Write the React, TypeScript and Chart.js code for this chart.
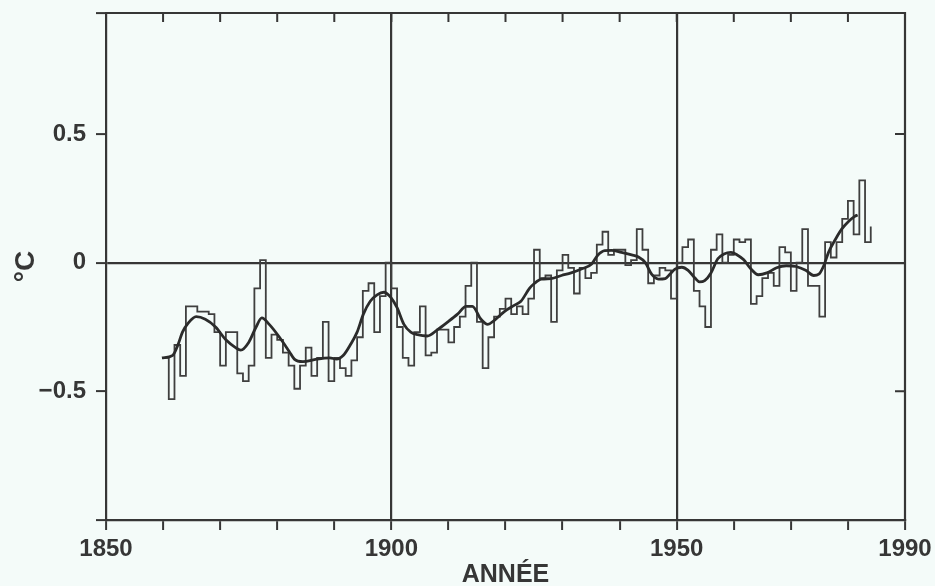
import { useEffect, useRef } from 'react';
import { Chart, registerables } from 'chart.js';

Chart.register(...registerables);

const INK = '#363636';
const BG = '#f4fbf9';

// Annual anomalies (°C); each value holds from its year to the next
const stepYears = [
  1860, 1861, 1862, 1863, 1864, 1865, 1866, 1867, 1868, 1869,
  1870, 1871, 1872, 1873, 1874, 1875, 1876, 1877, 1878, 1879,
  1880, 1881, 1882, 1883, 1884, 1885, 1886, 1887, 1888, 1889,
  1890, 1891, 1892, 1893, 1894, 1895, 1896, 1897, 1898, 1899,
  1900, 1901, 1902, 1903, 1904, 1905, 1906, 1907, 1908, 1909,
  1910, 1911, 1912, 1913, 1914, 1915, 1916, 1917, 1918, 1919,
  1920, 1921, 1922, 1923, 1924, 1925, 1926, 1927, 1928, 1929,
  1930, 1931, 1932, 1933, 1934, 1935, 1936, 1937, 1938, 1939,
  1940, 1941, 1942, 1943, 1944, 1945, 1946, 1947, 1948, 1949,
  1950, 1951, 1952, 1953, 1954, 1955, 1956, 1957, 1958, 1959,
  1960, 1961, 1962, 1963, 1964, 1965, 1966, 1967, 1968, 1969,
  1970, 1971, 1972, 1973, 1974, 1975, 1976, 1977, 1978, 1979,
  1980, 1981, 1982, 1983, 1984,
];
const stepValues = [
  -0.37, -0.53, -0.32, -0.44, -0.17, -0.17, -0.19, -0.19, -0.20, -0.27,
  -0.40, -0.27, -0.27, -0.43, -0.46, -0.40, -0.10, 0.01, -0.37, -0.28,
  -0.30, -0.35, -0.40, -0.49, -0.40, -0.33, -0.44, -0.37, -0.23, -0.46,
  -0.37, -0.41, -0.44, -0.38, -0.29, -0.11, -0.08, -0.27, -0.13, 0.00,
  -0.10, -0.25, -0.37, -0.40, -0.27, -0.17, -0.36, -0.35, -0.26, -0.26,
  -0.31, -0.25, -0.21, -0.09, 0.00, -0.23, -0.41, -0.29, -0.21, -0.18,
  -0.14, -0.20, -0.17, -0.20, -0.14, 0.05, -0.06, -0.05, -0.23, -0.03,
  0.03, -0.02, -0.12, -0.02, -0.06, -0.04, 0.07, 0.12, 0.03, 0.05,
  0.05, -0.01, 0.01, 0.13, 0.05, -0.08, -0.05, -0.02, -0.03, -0.14,
  0.00, 0.06, 0.09, -0.11, -0.17, -0.25, 0.05, 0.11, 0.00, 0.03,
  0.09, 0.08, 0.09, -0.16, -0.13, -0.06, -0.04, -0.09, 0.06, 0.04,
  -0.11, 0.00, 0.13, -0.09, -0.09, -0.21, 0.08, 0.02, 0.08, 0.17,
  0.24, 0.11, 0.32, 0.08, 0.14,
];

// Smoothed curve
const smoothYears = [
  1859.8, 1861.7, 1862.6, 1863.4, 1864.4, 1865.8, 1867.4, 1869.2, 1871.0, 1872.7,
  1873.6, 1875.0, 1876.3, 1877.3, 1878.6, 1880.4, 1882.1, 1883.0, 1884.5, 1886.9,
  1889.2, 1890.4, 1891.6, 1892.8, 1894.0, 1895.1, 1896.3, 1897.5, 1898.7, 1899.9,
  1901.0, 1902.2, 1903.4, 1904.6, 1906.3, 1908.1, 1909.9, 1911.6, 1913.1, 1914.2,
  1915.7, 1916.9, 1918.0, 1919.8, 1921.6, 1922.7, 1924.2, 1925.1, 1926.3, 1928.0,
  1929.8, 1931.5, 1933.3, 1935.1, 1936.2, 1937.4, 1938.6, 1940.3, 1942.1, 1943.3,
  1944.5, 1945.6, 1946.8, 1948.0, 1948.8, 1949.7, 1950.9, 1952.0, 1953.2, 1954.0,
  1954.9, 1956.0, 1957.2, 1958.3, 1959.5, 1960.6, 1961.7, 1962.9, 1964.3, 1965.8,
  1967.5, 1969.2, 1970.9, 1972.6, 1974.0, 1974.9, 1975.8, 1976.6, 1977.8, 1978.9,
  1980.1, 1981.2, 1981.7,
];
const smoothValues = [
  -0.37, -0.36, -0.32, -0.27, -0.235, -0.21, -0.22, -0.25, -0.30, -0.33,
  -0.34, -0.31, -0.25, -0.215, -0.24, -0.29, -0.345, -0.375, -0.385, -0.375,
  -0.37, -0.375, -0.36, -0.32, -0.27, -0.20, -0.15, -0.125, -0.115, -0.135,
  -0.175, -0.24, -0.27, -0.28, -0.285, -0.26, -0.23, -0.20, -0.17, -0.17,
  -0.22, -0.24, -0.225, -0.19, -0.165, -0.15, -0.10, -0.08, -0.064, -0.062,
  -0.05, -0.04, -0.025, -0.005, 0.03, 0.047, 0.048, 0.04, 0.03, 0.022,
  0.0, -0.045, -0.064, -0.062, -0.045, -0.025, -0.018, -0.03, -0.06, -0.075,
  -0.07, -0.04, 0.015, 0.034, 0.04, 0.03, 0.012, -0.022, -0.047, -0.04,
  -0.02, -0.012, -0.015, -0.03, -0.05, -0.045, -0.01, 0.04, 0.09, 0.13,
  0.16, 0.18, 0.185,
];

const xTickValues = [1850, 1900, 1950, 1990];
const xTickLabels = ['1850', '1900', '1950', '1990'];
const xGridValues = [1900, 1950];
const yTickValues = [-0.5, 0, 0.5];
const yTickLabels = ['\u22120.5', '0', '0.5'];
const yGridValues = [0];
const rightTickValues = [-0.5, 0.5];

const framePlugin = {
  id: 'frame',
  afterDraw(chart: any) {
    const { ctx, chartArea, scales } = chart;
    const { left, right, top, bottom } = chartArea;
    const x = scales.x;
    const y = scales.y;
    ctx.save();
    ctx.strokeStyle = INK;
    ctx.lineWidth = 2.2;
    ctx.beginPath();
    ctx.moveTo(left - 1, top);
    ctx.lineTo(right, top);
    ctx.lineTo(right, bottom + 1);
    ctx.stroke();
    ctx.lineWidth = 2;
    ctx.beginPath();
    x.ticks.forEach((t: any) => {
      if (t.value > x.min && t.value < x.max) {
        const px = x.getPixelForValue(t.value);
        ctx.moveTo(px, top);
        ctx.lineTo(px, top + 9);
      }
    });
    rightTickValues.forEach((v) => {
      const py = y.getPixelForValue(v);
      ctx.moveTo(right, py);
      ctx.lineTo(right - 10, py);
    });
    ctx.stroke();
    ctx.restore();
  },
};

export default function App() {
  const ref = useRef<HTMLCanvasElement>(null);

  useEffect(() => {
    if (!ref.current) return;
    const fam = "'Liberation Sans', Arial, sans-serif";
    const tickFont = { family: fam, size: 24, weight: 'bold' as const };
    const chart = new Chart(ref.current, {
      type: 'line',
      data: {
        datasets: [
          {
            data: stepYears.map((yr, i) => ({ x: yr, y: stepValues[i] })),
            stepped: 'before',
            borderColor: '#3f3f3f',
            borderWidth: 1.8,
            pointRadius: 0,
            fill: false,
            order: 2,
          },
          {
            data: smoothYears.map((yr, i) => ({ x: yr, y: smoothValues[i] })),
            borderColor: '#2b2b2b',
            borderWidth: 2.8,
            pointRadius: 0,
            fill: false,
            cubicInterpolationMode: 'monotone',
            order: 1,
          },
        ],
      },
      options: {
        responsive: false,
        animation: false,
        devicePixelRatio: 1,
        layout: { padding: { top: 13, right: 30, bottom: 0, left: 0 } },
        plugins: { legend: { display: false }, tooltip: { enabled: false } },
        scales: {
          x: {
            type: 'linear',
            position: 'bottom',
            min: 1850,
            max: 1990,
            afterFit(s: any) {
              s.height = 66;
              s.paddingLeft = 0;
              s.paddingRight = 0;
            },
            ticks: {
              stepSize: 10,
              autoSkip: false,
              maxRotation: 0,
              minRotation: 0,
              padding: 5,
              color: INK,
              font: tickFont,
              callback: (v: any) => {
                const i = xTickValues.indexOf(Number(v));
                return i >= 0 ? xTickLabels[i] : '';
              },
            },
            grid: {
              color: (c: any) => (c.tick && xGridValues.includes(c.tick.value) ? INK : 'rgba(0,0,0,0)'),
              lineWidth: 2.2,
              tickColor: INK,
              tickLength: 10,
              tickWidth: 2,
            },
            border: { display: true, color: INK, width: 2.2 },
            title: {
              display: true,
              text: 'ANNÉE',
              color: INK,
              font: { family: fam, size: 25, weight: 'bold' },
              padding: { top: 0, bottom: -4 },
            },
          },
          y: {
            min: -1,
            max: 0.97,
            afterBuildTicks(s: any) {
              s.ticks = [s.min, ...yTickValues, s.max].map((v) => ({ value: v }));
            },
            afterFit(s: any) {
              s.width = 106;
              s.paddingTop = 0;
              s.paddingBottom = 0;
            },
            ticks: {
              padding: 10,
              autoSkip: false,
              color: INK,
              font: tickFont,
              callback: (v: any) => {
                const i = yTickValues.indexOf(Number(v));
                return i >= 0 ? yTickLabels[i] : '';
              },
            },
            grid: {
              color: (c: any) => (c.tick && yGridValues.includes(c.tick.value) ? INK : 'rgba(0,0,0,0)'),
              lineWidth: 2.2,
              tickColor: INK,
              tickLength: 10,
              tickWidth: 2,
            },
            border: { display: true, color: INK, width: 2.2 },
            title: {
              display: true,
              text: '°C',
              color: INK,
              font: { family: fam, size: 28, weight: 'bold' },
              padding: { top: 9, bottom: 0 },
            },
          },
        },
      },
      plugins: [framePlugin],
    } as any);
    return () => chart.destroy();
  }, []);

  return (
    <div style={{ position: 'fixed', left: 0, top: 0, width: 935, height: 586, background: BG }}>
      <canvas ref={ref} width={935} height={586} style={{ display: 'block', width: 935, height: 586 }} />
    </div>
  );
}
